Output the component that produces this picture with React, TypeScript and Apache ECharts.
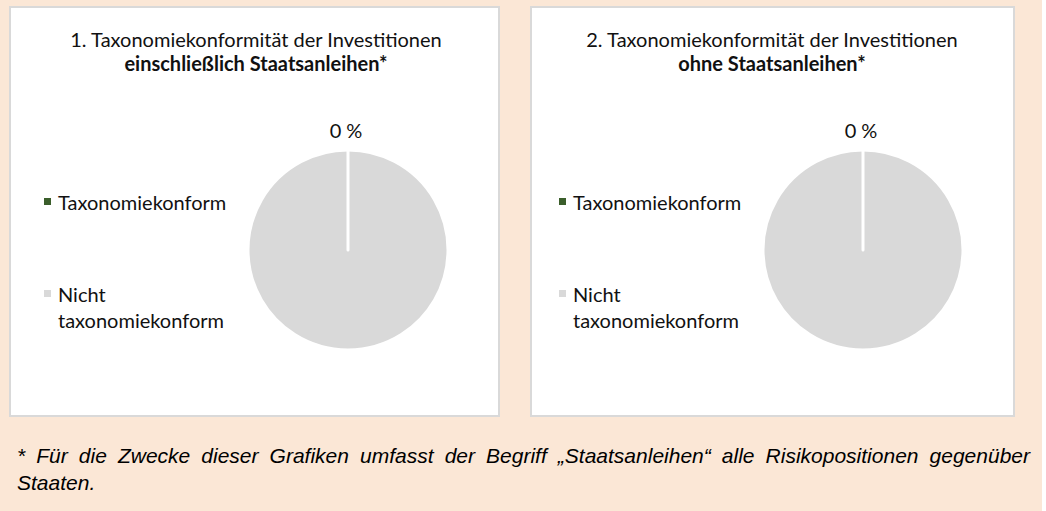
import React, { useEffect, useRef } from "react";
import * as echarts from "echarts";

const CATEGORIES = ["Taxonomiekonform", "Nicht taxonomiekonform"];
const COLORS = ["#3B5E2B", "#D9D9D9"];
const VALUES_INCL = [0, 100];
const VALUES_EXCL = [0, 100];
const TITLE_LINE1 = [
  "1. Taxonomiekonformität der Investitionen",
  "2. Taxonomiekonformität der Investitionen",
];
const TITLE_LINE2 = ["einschließlich Staatsanleihen*", "ohne Staatsanleihen*"];
const FOOTNOTE = [
  "* Für die Zwecke dieser Grafiken umfasst der Begriff „Staatsanleihen“ alle Risikopositionen gegenüber",
  "Staaten.",
];

const FONT = "Lato";
const FS = 20;
const TEXT_COLOR = "#111111";

export default function App() {
  const ref = useRef<HTMLDivElement>(null);
  useEffect(() => {
    document.body.style.margin = "0";
    const chart = echarts.init(ref.current!, undefined, { renderer: "svg" });

    const panels = [
      { x: 10, y: 7, w: 489, h: 409, cx: 348, tx: 256, lx: 44 },
      { x: 531, y: 7, w: 483, h: 409, cx: 863, tx: 772, lx: 559 },
    ];
    const values = [VALUES_INCL, VALUES_EXCL];

    const graphic: any[] = [
      { type: "rect", z: -10, shape: { x: 1042, y: 0, width: 10, height: 511 }, style: { fill: "#ffffff" } },
    ];
    panels.forEach((p, i) => {
      graphic.push({
        type: "rect",
        z: -5,
        shape: { x: p.x, y: p.y, width: p.w, height: p.h },
        style: { fill: "#ffffff", stroke: "#D9D9D9", lineWidth: 2 },
      });
      graphic.push({
        type: "text",
        x: p.tx,
        y: 39,
        style: { text: TITLE_LINE1[i], align: "center", verticalAlign: "middle", font: `${FS}px ${FONT}`, fill: TEXT_COLOR },
      });
      graphic.push({
        type: "text",
        x: p.tx,
        y: 63,
        style: { text: TITLE_LINE2[i], align: "center", verticalAlign: "middle", font: `bold ${FS}px ${FONT}`, fill: TEXT_COLOR },
      });
      const legendY = [202, 294];
      CATEGORIES.forEach((c, k) => {
        graphic.push({
          type: "rect",
          shape: { x: p.lx, y: legendY[k] - 4, width: 7, height: 7 },
          style: { fill: COLORS[k] },
        });
        graphic.push({
          type: "text",
          x: p.lx + 14,
          y: legendY[k] - 13,
          style: {
            text: c.replace(" ", "\n"),
            align: "left",
            verticalAlign: "top",
            lineHeight: 26,
            font: `${FS}px ${FONT}`,
            fill: TEXT_COLOR,
          },
        });
      });
    });

    // Justified footnote
    const ctx = document.createElement("canvas").getContext("2d")!;
    const footFont = `italic 21px "Liberation Sans"`;
    ctx.font = footFont;
    const words = FOOTNOTE[0].split(" ");
    const widths = words.map((w) => ctx.measureText(w).width);
    const left = 17;
    const right = 1030;
    const total = widths.reduce((a, b) => a + b, 0);
    const gap = (right - left - total) / (words.length - 1);
    let xx = left;
    words.forEach((w, k) => {
      graphic.push({
        type: "text",
        x: xx,
        y: 455,
        style: { text: w, align: "left", verticalAlign: "middle", font: footFont, fill: "#000000" },
      });
      xx += widths[k] + gap;
    });
    graphic.push({
      type: "text",
      x: left,
      y: 482,
      style: { text: FOOTNOTE[1], align: "left", verticalAlign: "middle", font: footFont, fill: "#000000" },
    });

    const series = panels.map((p, i) => ({
      type: "pie",
      center: [p.cx, 250],
      radius: 100,
      startAngle: 90,
      clockwise: true,
      avoidLabelOverlap: false,
      itemStyle: { borderColor: "#ffffff", borderWidth: 3, borderCap: "round" },
      labelLine: { show: false, length: 10, length2: 0 },
      emphasis: { disabled: true },
      labelLayout: (params: any) => ({
        x: params.rect.x + params.rect.width / 2 - 2,
        y: params.rect.y - 19,
        align: "center",
        verticalAlign: "middle",
      }),
      // Non-conforming slice first so the zero slice's white edge is drawn on top
      data: CATEGORIES.map((c, k) => ({
        name: c,
        value: values[i][k],
        itemStyle: { color: COLORS[k] },
        label:
          k === 0
            ? {
                show: true,
                position: "outside",
                formatter: "{d} %",
                fontFamily: FONT,
                fontSize: FS,
                color: TEXT_COLOR,
              }
            : { show: false },
      })).reverse(),
    }));

    chart.setOption({
      animation: false,
      backgroundColor: "#FBE7D6",
      graphic,
      series,
    });
    return () => chart.dispose();
  }, []);
  return <div ref={ref} style={{ width: 1046, height: 511 }} />;
}
